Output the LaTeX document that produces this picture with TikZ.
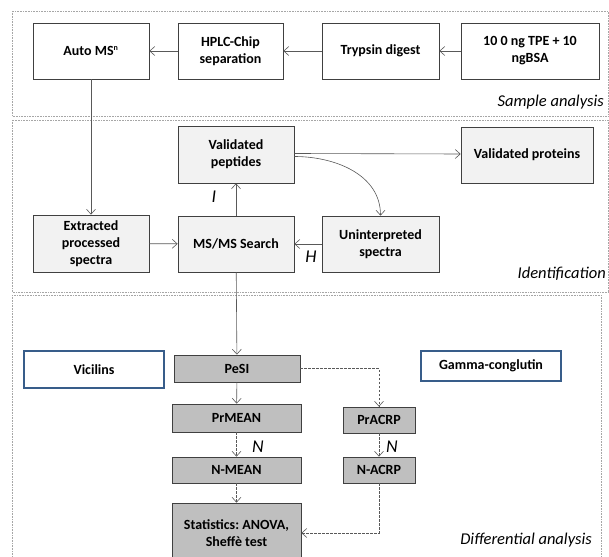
\documentclass[tikz,border=0pt]{standalone}
\usepackage{fontspec}
\setmainfont{Carlito}
\usetikzlibrary{arrows.meta,positioning}
\definecolor{edgeblue}{RGB}{56,93,138}
\frenchspacing
\tikzset{
  panel/.style={draw=black!35, densely dotted, line width=0.6pt},
  plainbox/.style={draw=black!75, fill=white, line width=0.7pt, align=center, inner sep=2pt,
    font=\fontsize{14}{17}\selectfont\bfseries},
  idbox/.style={plainbox, fill=black!5},
  diffbox/.style={plainbox, fill=black!25},
  groupbox/.style={plainbox, draw=edgeblue, line width=1.4pt},
  stagelab/.style={font=\fontsize{16.5}{19}\selectfont\itshape, anchor=east, inner sep=0pt},
  letterlab/.style={font=\fontsize{18}{20}\selectfont\itshape, inner sep=0pt},
  arr/.style={-{Straight Barb[length=5pt,width=9pt]}, draw=black!65, line width=0.6pt},
  darr/.style={arr, dash pattern=on 2.5pt off 1.5pt}
}

\begin{document}
\begin{tikzpicture}[x=1pt,y=-1pt]
\useasboundingbox (0,0) rectangle (609,556);
\clip (0,0) rectangle (609,556);

% ---------------- Panels ----------------
\draw[panel] (12,11) rectangle (608,116);
\draw[panel] (12,120) rectangle (608,292);
\draw[panel] (12,295) rectangle (601,600);
\node[stagelab] (lsample) at (604,102) {Sample analysis};
\node[stagelab] (lident) at (606,274) {Identification};
\node[stagelab] (ldiff) at (592,540) {Differential analysis};

% ---------------- Sample analysis ----------------
\node[plainbox, minimum width=116pt, minimum height=56pt] (auto) at (91,51) {Auto MS\textsuperscript{\fontsize{8}{9}\selectfont n}};
\node[plainbox, minimum width=105pt, minimum height=56pt] (hplc) at (230.5,51) {HPLC-Chip\\separation};
\node[plainbox, minimum width=117pt, minimum height=56pt] (tryp) at (380.5,51) {Trypsin digest};
\node[plainbox, minimum width=138pt, minimum height=56pt] (tpe) at (530,51) {10 0 ng TPE + 10\\ngBSA};

\draw[arr] (tpe) -- (tryp);
\draw[arr] (tryp) -- (hplc);
\draw[arr] (hplc) -- (auto);

% ---------------- Identification ----------------
\node[idbox, minimum width=116pt, minimum height=57pt] (pep) at (236,154.5) {Validated\\peptides};
\node[idbox, minimum width=132pt, minimum height=56pt] (prot) at (527,155) {Validated proteins};
\node[idbox, minimum width=116pt, minimum height=57pt] (extr) at (91,243.5) {Extracted\\processed\\spectra};
\node[idbox, minimum width=116pt, minimum height=56pt] (msms) at (236,244) {MS/MS Search};
\node[idbox, minimum width=117pt, minimum height=56pt] (unint) at (380.5,244) {Uninterpreted\\spectra};

\draw[arr] (auto) -- (extr);
\draw[arr] (extr) -- (msms);
\draw[arr] (unint) -- (msms);
\draw[arr] (msms) -- (pep);
\draw[arr] ([yshift=1pt]pep.east) -- ([yshift=1pt]prot.west);
\draw[arr] ([yshift=-2pt]pep.east) to[out=0, in=90] (unint.north);

\node[letterlab] (li) at (214,197) {I};
\node[letterlab] (lh) at (311,257) {H};

% ---------------- Differential analysis ----------------
\node[groupbox, minimum width=140pt, minimum height=37pt] (vic) at (94,369.5) {Vicilins};
\node[groupbox, minimum width=140pt, minimum height=30pt] (gamma) at (491,366) {Gamma-conglutin};

\node[diffbox, minimum width=126pt, minimum height=27pt] (pesi) at (237,368.5) {PeSI};
\node[diffbox, minimum width=129pt, minimum height=28pt] (prmean) at (236.5,418) {PrMEAN};
\node[diffbox, minimum width=129pt, minimum height=26pt] (nmean) at (236.5,470) {N-MEAN};
\node[diffbox, minimum width=129pt, minimum height=60pt] (stats) at (236.5,533) {Statistics: ANOVA,\\Sheffè test};
\node[diffbox, minimum width=72pt, minimum height=26pt] (pracrp) at (379,420) {PrACRP};
\node[diffbox, minimum width=72pt, minimum height=26pt] (nacrp) at (379,470) {N-ACRP};

\draw[arr] (msms) -- (pesi);
\draw[arr] (pesi) -- (prmean);
\draw[darr] (prmean) -- (nmean);
\draw[darr] (nmean) -- (stats);
\draw[darr] (pesi.east) -| (pracrp.north);
\draw[darr] (pracrp) -- (nacrp);
\draw[darr] (nacrp.south) |- (stats.east);

\node[letterlab] (ln1) at (258,447) {N};
\node[letterlab] (ln2) at (392,447) {N};

\end{tikzpicture}
\end{document}
